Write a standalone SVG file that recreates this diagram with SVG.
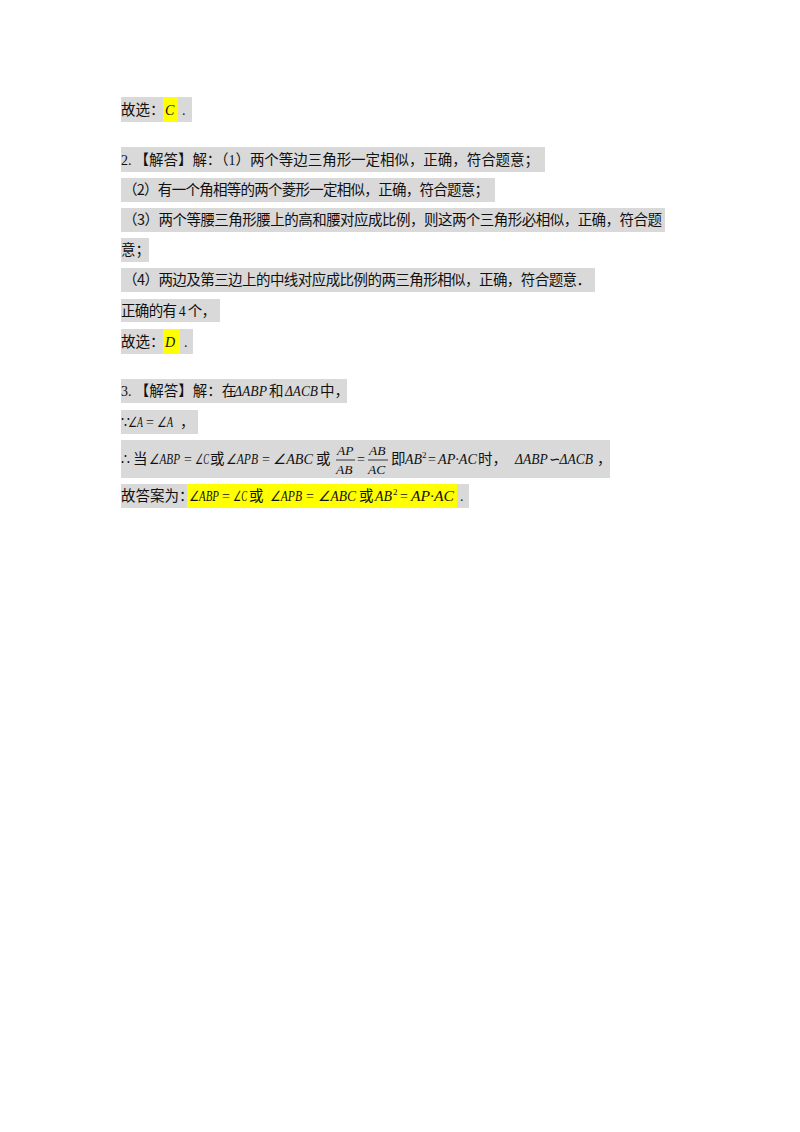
<svg xmlns="http://www.w3.org/2000/svg" width="800" height="1132" viewBox="0 0 800 1132">
<style>
.bg{fill:#d9d9d9}
.hl{fill:#ffff00}
text{font-family:"Noto Sans CJK SC","Liberation Sans",sans-serif;font-size:14.5px;fill:#111}
.m{font-family:"Liberation Serif",serif;font-style:italic;font-size:14px}
.n{font-family:"Liberation Serif",serif;font-size:14px}
.s{font-family:"Liberation Serif",serif;font-size:9px}
.f{font-family:"Liberation Serif",serif;font-style:italic;font-size:13.5px}
</style>
<rect width="800" height="1132" fill="#fff"/>
<g id="line1">
<rect class="bg" x="121" y="97" width="71" height="25"/>
<rect class="hl" x="163" y="97" width="15" height="25"/>
<text x="121" y="115">故选：</text><text class="m" x="165" y="115">C</text><text class="n" x="182" y="115">.</text>
</g>
<g id="q2">
<rect class="bg" x="121" y="147" width="424" height="25"/>
<text x="121" y="165" textLength="418" lengthAdjust="spacing"><tspan class="n">2.</tspan> 【解答】解：（<tspan class="n">1</tspan>）两个等边三角形一定相似，正确，符合题意；</text>
<rect class="bg" x="121" y="178" width="374" height="24"/>
<text x="123" y="195" textLength="366" lengthAdjust="spacing">（2）有一个角相等的两个菱形一定相似，正确，符合题意；</text>
<rect class="bg" x="121" y="208" width="544" height="24"/>
<text x="123" y="225" textLength="539" lengthAdjust="spacing">（3）两个等腰三角形腰上的高和腰对应成比例，则这两个三角形必相似，正确，符合题</text>
<rect class="bg" x="121" y="238" width="28" height="24"/>
<text x="121" y="255">意；</text>
<rect class="bg" x="121" y="268" width="474" height="24"/>
<text x="123" y="285" textLength="468" lengthAdjust="spacing">（4）两边及第三边上的中线对应成比例的两三角形相似，正确，符合题意．</text>
<rect class="bg" x="121" y="299" width="99" height="23"/>
<text x="121" y="316" textLength="95" lengthAdjust="spacing">正确的有 <tspan class="n">4</tspan> 个，</text>
<rect class="bg" x="121" y="329" width="72" height="25"/>
<rect class="hl" x="163" y="329" width="17" height="25"/>
<text x="121" y="347">故选：</text><text class="m" x="165" y="347">D</text><text class="n" x="184" y="347">.</text>
</g>
<g id="q3">
<rect class="bg" x="121" y="379" width="226" height="24"/>
<text x="121" y="396"><tspan class="n">3.</tspan> 【解答】解：在</text>
<text class="m" x="234" y="396" textLength="33" lengthAdjust="spacingAndGlyphs"><tspan class="n">Δ</tspan>ABP</text><text x="269" y="396">和</text><text class="m" x="285" y="396" textLength="33" lengthAdjust="spacingAndGlyphs"><tspan class="n">Δ</tspan>ACB</text><text x="320" y="396">中，</text>
<rect class="bg" x="121" y="410" width="77" height="24"/>
<text class="n" x="121" y="427">∵</text><text class="m" x="128" y="427" textLength="15" lengthAdjust="spacingAndGlyphs"><tspan class="n">∠</tspan>A</text><text class="n" x="146" y="427">=</text><text class="m" x="157" y="427" textLength="16" lengthAdjust="spacingAndGlyphs"><tspan class="n">∠</tspan>A</text><text x="180" y="427">，</text>
<rect class="bg" x="121" y="440" width="489" height="38"/>
<text class="n" x="121" y="464">∴</text><text x="133" y="464">当</text>
<text class="m" x="149" y="464" textLength="31" lengthAdjust="spacingAndGlyphs"><tspan class="n">∠</tspan>ABP</text><text class="n" x="184" y="464">=</text>
<text class="m" x="195" y="464" textLength="14" lengthAdjust="spacingAndGlyphs"><tspan class="n">∠</tspan>C</text><text x="210" y="464">或</text>
<text class="m" x="226" y="464" textLength="32" lengthAdjust="spacingAndGlyphs"><tspan class="n">∠</tspan>APB</text><text class="n" x="262" y="464">=</text>
<text class="m" x="273" y="464" textLength="40" lengthAdjust="spacingAndGlyphs"><tspan class="n">∠</tspan>ABC</text><text x="316" y="464">或</text>
<text class="f" x="337" y="455">AP</text>
<line x1="336" y1="460" x2="355" y2="460" stroke="#111" stroke-width="0.8"/>
<text class="f" x="336" y="474">AB</text>
<text class="n" x="357" y="464">=</text>
<text class="f" x="369" y="455">AB</text>
<line x1="368" y1="460" x2="388" y2="460" stroke="#111" stroke-width="0.8"/>
<text class="f" x="368" y="474">AC</text>
<text x="391" y="464">即</text>
<text class="m" x="405" y="464" textLength="17" lengthAdjust="spacingAndGlyphs">AB</text><text class="s" x="422" y="458">2</text>
<text class="n" x="428" y="464">=</text>
<text class="m" x="438" y="464" textLength="39" lengthAdjust="spacingAndGlyphs">AP<tspan class="n">·</tspan>AC</text><text x="478" y="464">时，</text>
<text class="m" x="515" y="464" textLength="78" lengthAdjust="spacingAndGlyphs"><tspan class="n">Δ</tspan>ABP<tspan class="n">∽Δ</tspan>ACB</text><text x="597" y="464">，</text>
<rect class="bg" x="121" y="484" width="348" height="24"/>
<rect class="hl" x="187" y="484" width="270" height="24"/>
<text x="121" y="501">故答案为：</text>
<text class="m" x="189" y="501" textLength="30" lengthAdjust="spacingAndGlyphs"><tspan class="n">∠</tspan>ABP</text><text class="n" x="222" y="501">=</text>
<text class="m" x="233" y="501" textLength="14" lengthAdjust="spacingAndGlyphs"><tspan class="n">∠</tspan>C</text><text x="249" y="501">或</text>
<text class="m" x="270" y="501" textLength="32" lengthAdjust="spacingAndGlyphs"><tspan class="n">∠</tspan>APB</text><text class="n" x="306" y="501">=</text>
<text class="m" x="318" y="501" textLength="38" lengthAdjust="spacingAndGlyphs"><tspan class="n">∠</tspan>ABC</text><text x="359" y="501">或</text>
<text class="m" x="375" y="501" textLength="17" lengthAdjust="spacingAndGlyphs">AB</text><text class="s" x="393" y="495">2</text>
<text class="n" x="400" y="501">=</text>
<text class="m" x="411" y="501" textLength="43" lengthAdjust="spacingAndGlyphs">AP<tspan class="n">·</tspan>AC</text>
<text class="n" x="460" y="501">.</text>
</g>
</svg>
